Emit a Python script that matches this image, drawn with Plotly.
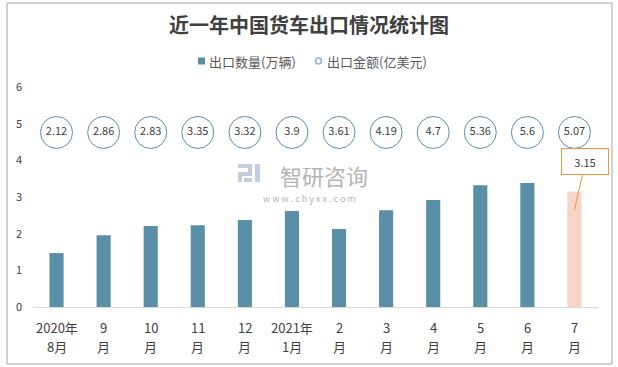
import plotly.graph_objects as go

label_top = ["2020年", "9", "10", "11", "12", "2021年", "2", "3", "4", "5", "6", "7"]
label_bottom = ["8月", "月", "月", "月", "月", "1月", "月", "月", "月", "月", "月", "月"]
categories = [a + "<br>" + b for a, b in zip(label_top, label_bottom)]
volume = [1.47, 1.96, 2.21, 2.23, 2.37, 2.62, 2.13, 2.64, 2.92, 3.32, 3.38, 3.15]   # 出口数量(万辆)
amount = [2.12, 2.86, 2.83, 3.35, 3.32, 3.9, 3.61, 4.19, 4.7, 5.36, 5.6, 5.07]     # 出口金额(亿美元)
series_names = ["出口数量(万辆)", "出口金额(亿美元)"]

BAR = "#5b8fa7"
LAST = "#f8d3c8"
FONT = "Noto Sans CJK SC, Microsoft YaHei, sans-serif"
TXT = "#404040"
CIRCLE_ROW = 4.76

W, H = 618, 367
L, R, T, B = 33, 20, 87, 60
pw, ph = W - L - R, H - T - B


def px(x):
    return (x - L) / pw


def py(y):
    return (H - B - y) / ph


fig = go.Figure()
fig.add_trace(go.Bar(
    x=categories, y=volume, width=0.3,
    marker=dict(color=[BAR] * (len(volume) - 1) + [LAST], line=dict(width=0)),
    name=series_names[0], showlegend=False,
))
fig.add_trace(go.Scatter(
    x=categories, y=[CIRCLE_ROW] * len(amount), mode="markers+text",
    text=[str(a) for a in amount], textposition="middle center",
    textfont=dict(size=11, color=TXT, family=FONT), name=series_names[1],
    marker=dict(size=32, color="white", line=dict(color="#5e8da4", width=1)),
    showlegend=False, hoverinfo="text",
))

# category labels on two lines, placed like the original
for cat, top, bottom in zip(categories, label_top, label_bottom):
    fig.add_annotation(x=cat, xref="x", y=py(327), yref="paper", text=top, showarrow=False,
                       yanchor="middle", font=dict(size=13, color=TXT, family=FONT))
    fig.add_annotation(x=cat, xref="x", y=py(346), yref="paper", text=bottom, showarrow=False,
                       yanchor="middle", font=dict(size=13, color=TXT, family=FONT))

# legend (drawn manually to match the compact original)
fig.add_shape(type="rect", xref="paper", yref="paper", x0=px(198), x1=px(205), y0=py(64.5), y1=py(57.5),
              fillcolor=BAR, line=dict(width=0))
fig.add_annotation(x=px(207), y=py(61), xref="paper", yref="paper", xanchor="left", yanchor="middle",
                   text=series_names[0], showarrow=False, font=dict(size=13, color="#595959", family=FONT))
fig.add_shape(type="circle", xref="paper", yref="paper", x0=px(315.5), x1=px(321.5), y0=py(64), y1=py(58),
              fillcolor="white", line=dict(color="#8fb3c6", width=1.5))
fig.add_annotation(x=px(325), y=py(61), xref="paper", yref="paper", xanchor="left", yanchor="middle",
                   text=series_names[1], showarrow=False, font=dict(size=13, color="#595959", family=FONT))

# callout on the last bar
fig.add_annotation(
    x=categories[-1], y=volume[-1] - 0.5, xref="x", yref="y",
    text=str(volume[-1]), showarrow=True, arrowhead=0, arrowwidth=1,
    arrowcolor="#e8963f", ax=11, ay=-48,
    bordercolor="#e8963f", borderwidth=1, borderpad=4, bgcolor="white",
    width=38, height=17, font=dict(size=11, color=TXT, family=FONT),
)

# watermark
fig.add_annotation(x=px(324), y=py(175), xref="paper", yref="paper", text="智研咨询",
                   showarrow=False, font=dict(size=22, color="#b4b4b4", family=FONT))
fig.add_annotation(x=px(309), y=py(198), xref="paper", yref="paper",
                   text="w w w . c h y x x . c o m", showarrow=False,
                   font=dict(size=9, color="#b4b4b4", family=FONT))
for (x0, y0, x1, y1) in [(238, 164, 252, 168), (248, 164, 252, 176), (238, 172, 252, 176),
                         (238, 172, 242, 182), (244, 178, 252, 182), (255, 164, 260, 182)]:
    fig.add_shape(type="rect", xref="paper", yref="paper", x0=px(x0), x1=px(x1),
                  y0=py(y0), y1=py(y1), fillcolor="#c3cde0", line=dict(width=0), layer="below")

# chart border
fig.add_shape(type="rect", xref="paper", yref="paper", x0=px(7), x1=px(612), y0=py(364), y1=py(3),
              line=dict(color="#a6a6a6", width=1))

fig.update_layout(
    width=W, height=H, margin=dict(l=L, r=R, t=T, b=B, autoexpand=False),
    paper_bgcolor="white", plot_bgcolor="white",
    title=dict(text="<b>近一年中国货车出口情况统计图</b>", x=0.5, xanchor="center",
               y=1 - 26 / H, yanchor="middle", font=dict(size=20, color=TXT, family=FONT)),
    showlegend=False,
    bargap=0.7,
    font=dict(family=FONT, color=TXT),
)
fig.update_xaxes(type="category", range=[-0.5, len(categories) - 0.5], showgrid=False,
                 showline=True, linecolor="#d9d9d9", showticklabels=False,
                 ticks="", ticklen=0, automargin=False)
fig.update_yaxes(range=[0, 6], dtick=1, showgrid=False, zeroline=False, showline=False,
                 tickfont=dict(size=11, color=TXT, family=FONT), ticks="", automargin=False,
                 ticklabelstandoff=10)

fig.write_html("out.html", config={"displayModeBar": False},
               post_script="document.body.style.margin='0';document.body.style.overflow='hidden';")
